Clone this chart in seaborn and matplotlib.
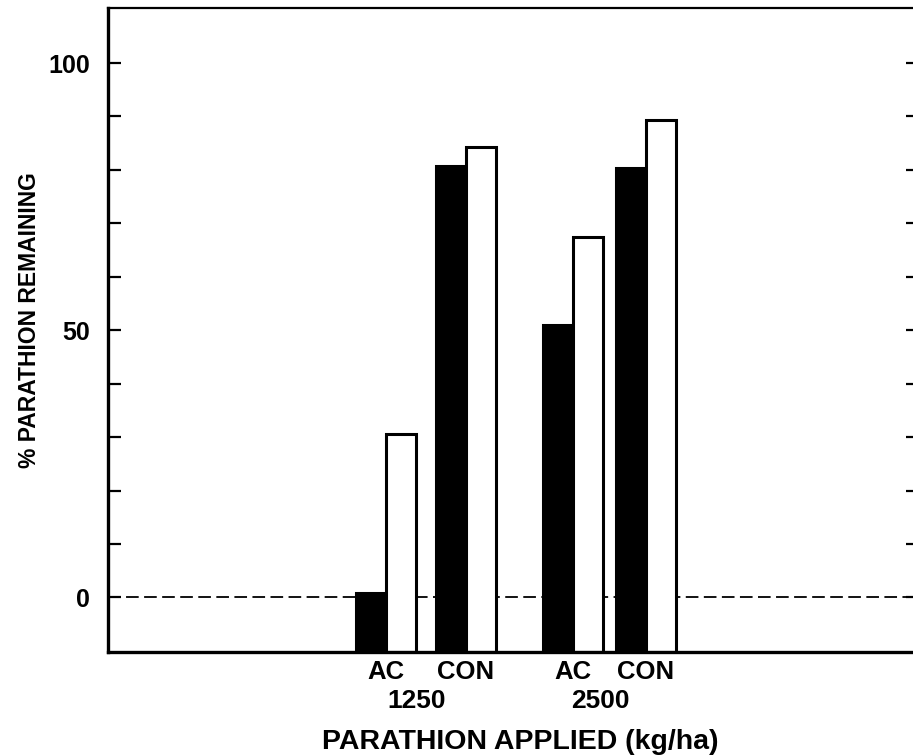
import matplotlib
matplotlib.use("Agg")
import matplotlib.pyplot as plt
import seaborn as sns
import pandas as pd

# values (% parathion remaining)
treatments = ["AC", "CON", "AC", "CON"]
doses = ["1250", "1250", "2500", "2500"]
filled_values = [0.8, 80.7, 51.0, 80.3]
open_values = [30.5, 84.3, 67.5, 89.3]
series_names = ["filled", "open"]
ytick_labels = ["0", "", "", "", "", "50", "", "", "", "", "100"]

# layout: where each treatment pair sits along x (the groups are not evenly spaced)
slot_pos = [0.0, 1.0, 2.34, 3.25]
Y_MIN, Y_MAX = -10.2, 110.3

rows = []
for i in range(len(treatments)):
    for name, vals in zip(series_names, [filled_values, open_values]):
        rows.append({"slot": slot_pos[i], "series": name, "remaining": vals[i]})
df = pd.DataFrame(rows)
# bars rise from the bottom of the frame, as in the original figure
df["height"] = df["remaining"] - Y_MIN

sns.set_style("ticks")
plt.rcParams["font.family"] = ["Liberation Sans", "DejaVu Sans"]
plt.rcParams["font.weight"] = "bold"
plt.rcParams.update({"text.color": "black", "axes.labelcolor": "black",
                     "axes.edgecolor": "black", "xtick.color": "black",
                     "ytick.color": "black"})

fig = plt.figure(figsize=(9.13, 7.56), dpi=100)
ax = fig.add_axes([108 / 913, 1 - 652 / 756, 805 / 913, 644 / 756])

ax.axhline(0, color="black", lw=1.3, ls=(0, (7, 3)), zorder=0)

sns.barplot(data=df, x="slot", y="height", hue="series", hue_order=series_names,
            palette={"filled": "black", "open": "white"}, native_scale=True,
            width=0.824, errorbar=None, legend=False, edgecolor="black",
            linewidth=2.2, bottom=Y_MIN, ax=ax, zorder=2)

ax.set_xlim(-3.475, 6.5875)
ax.set_ylim(Y_MIN, Y_MAX)

ax.set_yticks(range(0, 101, 10))
ax.set_yticklabels(ytick_labels, fontsize=18, fontweight="bold")
ax.tick_params(axis="y", direction="in", left=True, right=True, length=9,
               width=1.6, pad=13, colors="black")
for t in ax.yaxis.get_major_ticks():
    t.tick2line.set_markersize(5)

ax.set_xticks(slot_pos)
ax.set_xticklabels(treatments, fontsize=18.5, fontweight="bold")
ax.tick_params(axis="x", length=0, pad=6, colors="black")

# dose labels under each AC/CON pair
for d in sorted(set(doses)):
    xs = [p for p, dd in zip(slot_pos, doses) if dd == d]
    ax.annotate(d, xy=(sum(xs) / len(xs), 0), xycoords=("data", "axes fraction"),
                xytext=(-7, -35), textcoords="offset points", ha="center",
                va="center", fontsize=19, fontweight="bold")

ax.set_xlabel("PARATHION APPLIED (kg/ha)", fontsize=20.5, fontweight="bold", va="center")
ax.xaxis.set_label_coords(0.512, -0.14)
ax.set_ylabel("% PARATHION REMAINING", fontsize=16.5, fontweight="bold", va="center")
ax.yaxis.set_label_coords(-0.097, 0.515)

for side, lw in [("left", 2.4), ("bottom", 2.4), ("top", 1.6)]:
    ax.spines[side].set_linewidth(lw)
    ax.spines[side].set_color("black")
ax.spines["right"].set_visible(False)

plt.savefig("out.png", dpi=100)
plt.close()
